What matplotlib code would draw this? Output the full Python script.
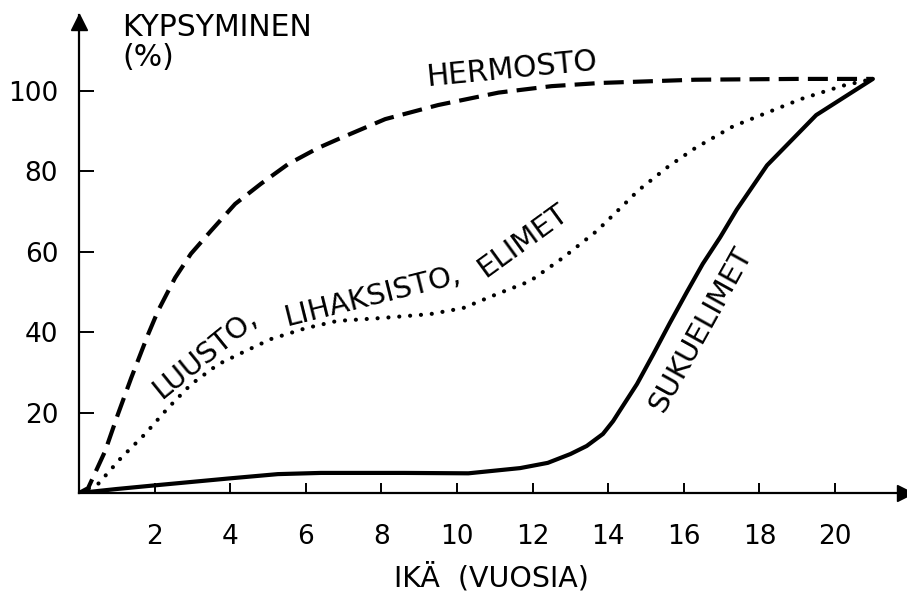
import matplotlib.pyplot as plt

plt.rcParams['font.family'] = ['DejaVu Sans']

# Kypsyminen (%) iän mukaan, luettu kuvasta
hermosto_ika = [0, 0.24, 0.69, 1.03, 1.38, 1.83, 2.09, 2.54, 2.96, 3.49, 4.13, 4.81, 5.53,
                6.32, 6.85, 8.1, 9.5, 11.1, 12.5, 13.8, 16.3, 19, 21]
hermosto = [0, 1.2, 10.4, 19.6, 28.6, 39.5, 45.3, 53.5, 59.5, 65.2, 71.9, 76.9, 81.8,
            85.8, 88.0, 93, 96.5, 99.6, 101.2, 102, 102.8, 103, 103]

luusto_ika = [0, 0.5, 1.11, 1.75, 2.35, 2.96, 3.68, 4.4, 5.08, 6.0, 6.83, 7.96, 9.29, 10.16,
              11.06, 11.93, 12.8, 13.7, 14.4, 14.8, 15.6, 16.3, 17.3, 19.1, 20.2, 21]
luusto = [0, 2.2, 8.7, 14.7, 21.1, 27, 32, 35.3, 38.3, 41, 42.8, 43.5, 44.5, 46,
          49.5, 52.7, 58.5, 65.2, 71.6, 75.3, 81.3, 85.8, 91.2, 98, 101.3, 103]

suku_ika = [0, 1, 2, 3.94, 5.26, 6.4, 8.6, 10.3, 11.67, 12.4, 13.0, 13.43, 13.86, 14.13, 14.3,
            14.76, 15.19, 15.63, 16.08, 16.5, 16.96, 17.4, 18.2, 19.5, 21]
suku = [0, 1.0, 1.9, 3.6, 4.7, 5, 5, 4.9, 6.2, 7.5, 9.7, 11.7, 14.7, 17.9, 20.4,
        27.1, 34.5, 42.3, 50.0, 57, 63.6, 70.5, 81.5, 94, 103]

x_ticks = [2, 4, 6, 8, 10, 12, 14, 16, 18, 20]
y_ticks = [20, 40, 60, 80, 100]

fig = plt.figure(figsize=(9.07, 5.95), dpi=100)
ax = fig.add_axes([0.0871, 0.1714, 0.9107, 0.8034])

lw = 3
ax.plot(hermosto_ika, hermosto, color='black', lw=lw, linestyle=(0, (4.8, 2.2)),
        dash_capstyle='butt', dash_joinstyle='round')
ax.plot(luusto_ika, luusto, color='black', lw=lw, linestyle=(0, (0.01, 2.6)),
        dash_capstyle='round')
ax.plot(suku_ika, suku, color='black', lw=lw, solid_capstyle='round', solid_joinstyle='round')

ax.set_xlim(0, 21.85)
ax.set_ylim(0, 118.9)
for s in ['top', 'right']:
    ax.spines[s].set_visible(False)
for s in ['left', 'bottom']:
    ax.spines[s].set_linewidth(1.6)

# nuolet akseleiden päihin
ax.plot(1, 0, '>k', markersize=11, transform=ax.get_yaxis_transform(), clip_on=False)
ax.plot(0, 0.985, '^k', markersize=11, transform=ax.get_xaxis_transform(), clip_on=False)

ax.set_xticks(x_ticks)
ax.set_yticks(y_ticks)
ax.tick_params(axis='x', direction='in', length=7, width=1.4, pad=22, labelsize=19)
ax.tick_params(axis='y', direction='in', length=11, width=1.4, pad=15, labelsize=19)

fig.text(122 / 907, 1 - 13 / 595, 'KYPSYMINEN\n(%)', fontsize=21.5, ha='left', va='top',
         linespacing=1.05)
fig.text(491 / 907, 1 - 578 / 595, 'IKÄ  (VUOSIA)', fontsize=20.5, ha='center', va='center')

ax.text(11.45, 105.5, 'HERMOSTO', fontsize=21.5, rotation=5.5, ha='center', va='center',
        rotation_mode='anchor')
ax.text(3.33, 34.5, 'LUUSTO,', fontsize=21, rotation=39, ha='center', va='center',
        rotation_mode='anchor')
ax.text(7.75, 48.8, 'LIHAKSISTO,', fontsize=21, rotation=14, ha='center', va='center',
        rotation_mode='anchor')
ax.text(11.75, 62.8, 'ELIMET', fontsize=21, rotation=36, ha='center', va='center',
        rotation_mode='anchor')
ax.text(16.45, 40.5, 'SUKUELIMET', fontsize=21, rotation=61, ha='center', va='center',
        rotation_mode='anchor')

plt.savefig('out.png', dpi=100)
